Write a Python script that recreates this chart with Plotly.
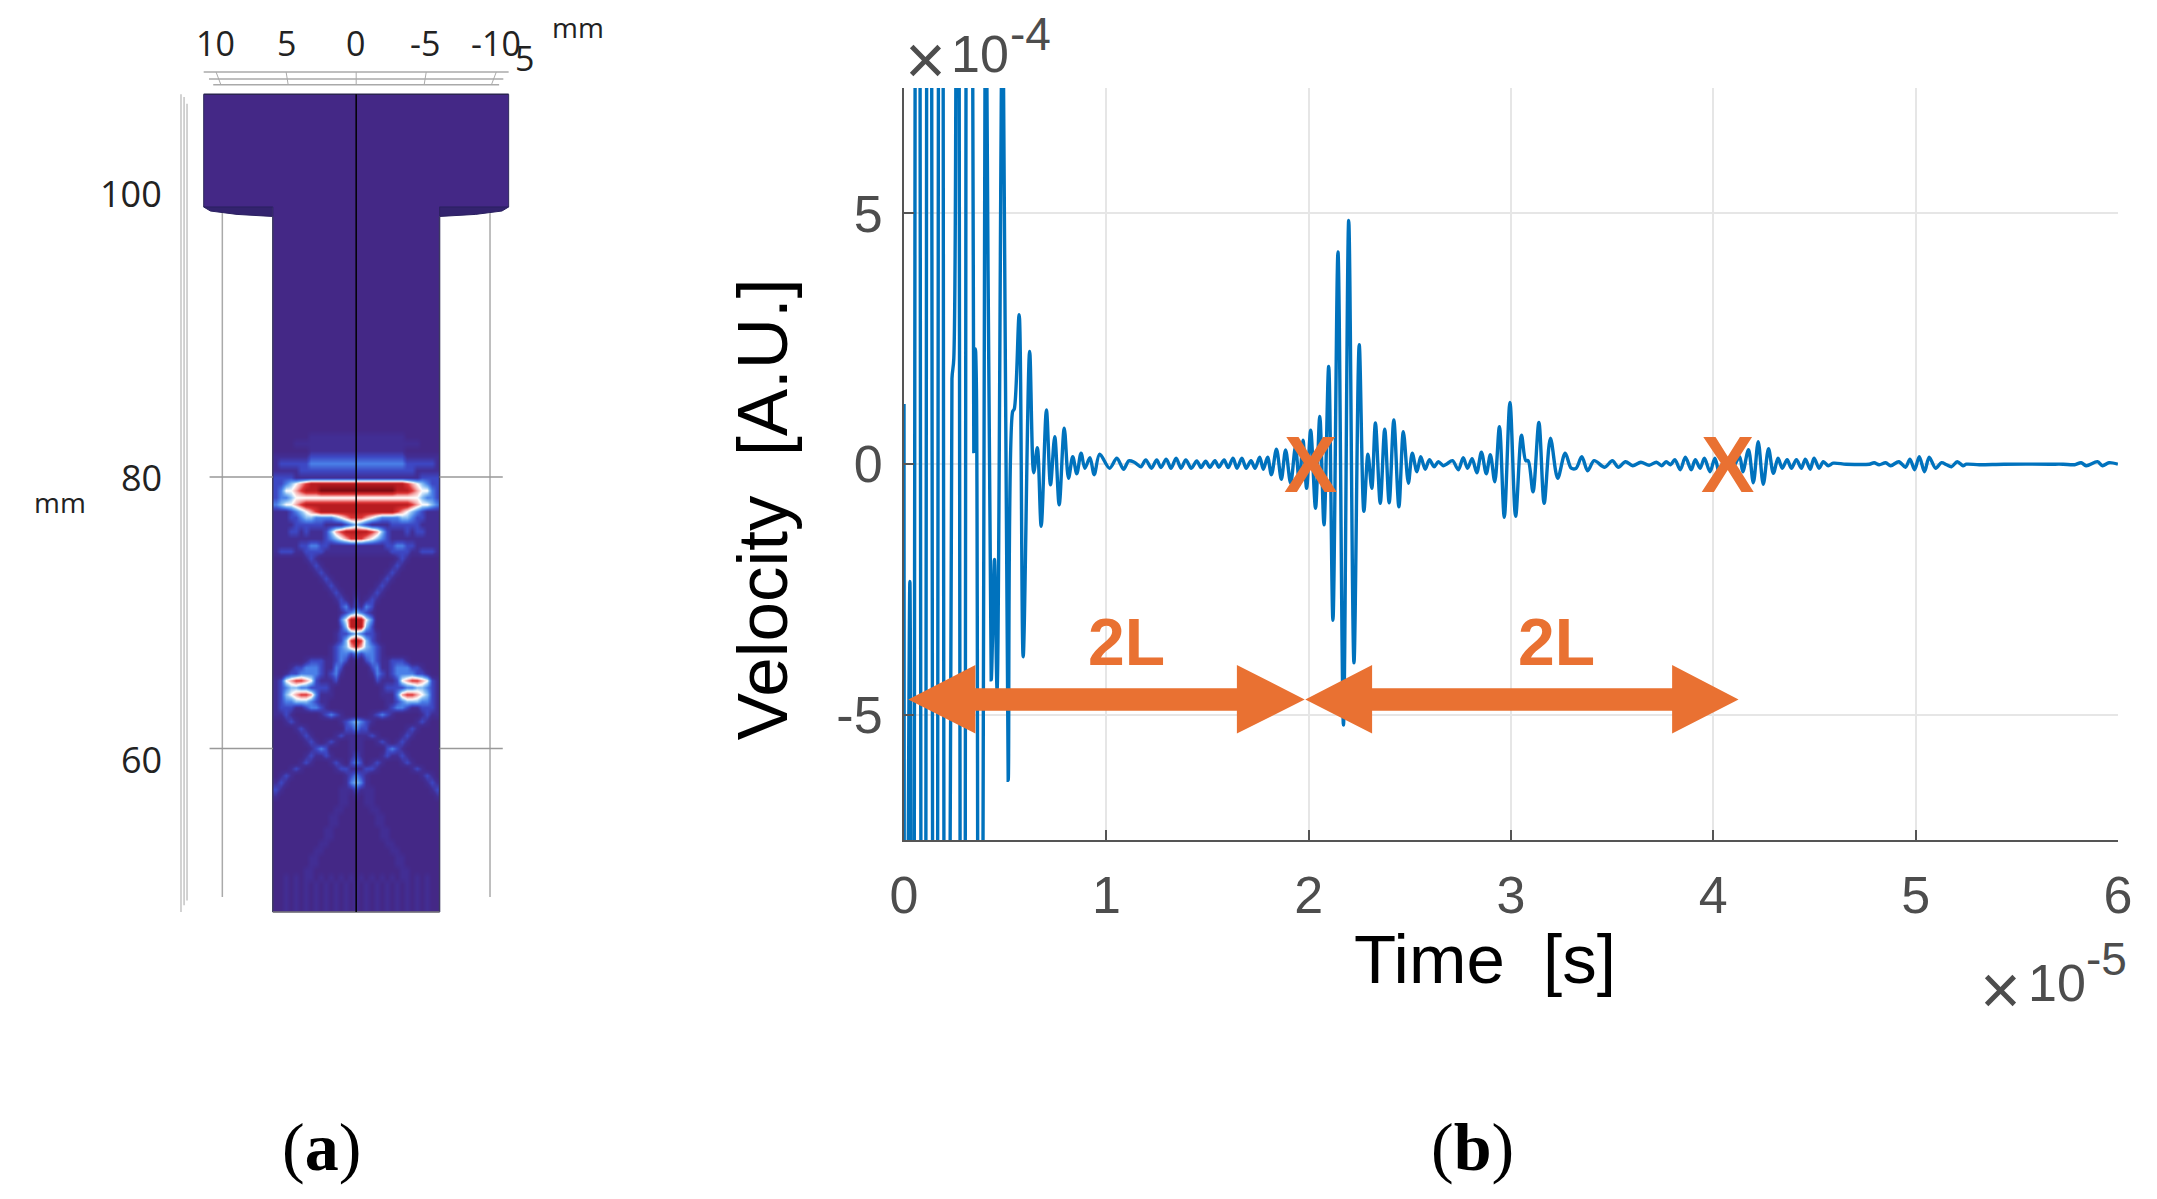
import plotly.graph_objects as go

W, H = 2157, 1199
PAGE_MARGIN = 8  # browser default body margin

# panel (b): velocity trace, time in 1e-5 s and velocity in 1e-4 A.U.
T_DIRECT = [0.000, .0065, .029, .042, .067, .096, .124, .154, .182, .210, .237, .246, .260, .291, .319, .345, .353, .358,
            .374, .403, .431, .447, .460, .488, .515, .537, .545, .569, .589, .621, .641, .659, .678, .704, .724, .745,
            .767, .792, .813, .834, .854, .875, .894, .919, .940]
V_DIRECT = [1.2, -20, -2.34, -30, 40, -40, 40, -40, 40, -40, 1.7, 2.1, 40, -40, 40, .25, 2.3, 1.5,
            -40, 12, -4.3, -1.9, -4.5, 10, -6.3, 1.05, 1.1, 2.98, -3.84, 2.25, -.17, .33, -1.24, 1.08, -.41, .55,
            -.81, .72, -.28, .15, -.19, .22, -.08, .13, -.21]

T_QUIET = [.967, 1.016, 1.052, 1.085, 1.111, 1.138, 1.171, 1.195, 1.223, 1.249, 1.270, 1.296, 1.320, 1.345, 1.369,
           1.393, 1.420, 1.447, 1.468, 1.491, 1.512, 1.537, 1.556, 1.582, 1.602, 1.626, 1.646, 1.670, 1.691, 1.715,
           1.735, 1.758, 1.776, 1.797, 1.816, 1.841, 1.865, 1.886, 1.911, 1.935, 1.954, 1.972, 1.990]
V_QUIET = [.20, -.08, .12, -.10, .066, .04, -.05, .086, -.08, .086, -.067, .10, -.08, .12, -.08,
           .086, -.08, .066, -.067, .06, -.06, .07, -.06, .086, -.067, .12, -.08, .12, -.08, .07,
           -.08, .14, -.10, .14, -.21, .30, -.30, .285, -.38, .35, -.41, .48, -.48]

T_ECHO_1 = [2.010, 2.034, 2.055, 2.076, 2.099, 2.120, 2.145, 2.172, 2.198, 2.224, 2.250, 2.273, 2.293, 2.312, 2.330,
            2.354, 2.376, 2.398, 2.421, 2.446, 2.468, 2.493, 2.512, 2.535, 2.554, 2.576, 2.597, 2.620, 2.641, 2.665]
V_ECHO_1 = [.68, -.88, .95, -1.21, 1.95, -3.11, 4.23, -5.2, 4.86, -3.96, 2.38, -.94, .20, -.48, .82,
            -.78, .70, -.77, .88, -.85, .65, -.38, .22, -.15, .15, -.10, .09, -.05, .05, -.03]

T_ECHO_2 = [2.683, 2.711, 2.740, 2.764, 2.785, 2.808, 2.831, 2.854, 2.878, 2.898, 2.920, 2.943, 2.967, 2.995, 3.023,
            3.052, 3.073, 3.085, 3.109, 3.138, 3.164, 3.195, 3.231, 3.268, 3.298, 3.322, 3.350, 3.379, 3.411, 3.463,
            3.501, 3.530, 3.566, 3.602, 3.642, 3.683, 3.719, 3.745, 3.767, 3.789, 3.810, 3.837, 3.862, 3.891, 3.911,
            3.935, 3.956, 3.984, 4.008]
V_ECHO_2 = [.006, .07, -.11, .13, -.08, .11, -.17, .24, -.19, .19, -.35, .75, -1.06, 1.23, -1.04,
            .58, .07, .07, -.55, .83, -.78, .52, -.28, .22, -.08, -.08, .15, -.13, .07, -.06,
            .07, -.06, .05, -.03, .04, -.02, .04, -.03, .05, -.01, .09, -.11, .14, -.11, .09,
            -.08, .12, -.15, .12]

T_ECHO_3 = [4.032, 4.057, 4.097, 4.130, 4.146, 4.174, 4.198, 4.222, 4.247, 4.273, 4.297, 4.320, 4.341, 4.365, 4.386,
            4.411, 4.435, 4.455, 4.479, 4.498, 4.523, 4.544, 4.568, 4.593, 4.657, 4.771, 4.795, 4.820, 4.852, 4.877,
            4.917, 4.950, 4.972, 4.995, 5.018, 5.044, 5.067, 5.099, 5.128, 5.153, 5.177, 5.206, 5.234, 5.250, 5.315,
            5.437, 5.664, 5.729, 5.786, 5.818, 5.843, 5.899, 5.924, 5.956, 6.000]
V_ECHO_3 = [-.21, .15, -.05, .15, -.15, .29, -.37, .45, -.40, .31, -.18, .12, -.08, .09, -.08,
            .09, -.08, .10, -.10, .12, -.08, .05, -.03, .02, 0, 0, .03, -.01, .03, -.03,
            .05, -.06, .10, -.11, .15, -.15, .14, -.08, .03, -.01, -.05, .05, -.03, 0, -.01,
            0, 0, 0, -.01, .03, -.03, .05, -.03, .03, 0]

X_TICKS = [0, 1, 2, 3, 4, 5, 6]
Y_TICKS = [-5, 0, 5]
Y_TICK_TEXT = ["-5", "0", "5"]

# panel (a): half of the rod, one row per 0.5 mm from z=84 down, levels 0-9, centre column first
FIELD_ROWS = [
    "00000000000000000", "00000000000000000", "11111111110000000", "11111111111110000",
    "11111111110000000", "22222222221111111", "33333333332222221", "22222222222211111",
    "11111111111112222", "88888888887654322", "99999999888765532", "55555555555554332",
    "88888888888765543", "88888888765432111", "77654333344322111", "43211112222221111",
    "88876421112122111", "77654321111111111", "11111122332211111", "11111112222112221",
    "00000000121000000", "00000001210000000", "00000012100000000", "00000121000000000",
    "00001210000000000", "10012100000000000", "20121000000000000", "21320000000000000",
    "43210000000000000", "88530000000000000", "88420000000000000", "43221000000000000",
    "87421000000000000", "76432100000000000", "32332100000000000", "10232112221000000",
    "00023112333221000", "00013212333322100", "00002111256776521", "00000122223344321",
    "00000111367765421", "00000011234443321", "00000012332112221", "00012321000001211",
    "43210000000012100", "32200000001210000", "11121000012100000", "11001210121000000",
    "11000023210000000", "21000121121000000", "32012100012100000", "11221000000121000",
    "32100000000001210", "43100000000000121", "21110000000000012", "10110000000000001",
    "00110000000000000", "00011000000000000", "00001100000000000", "00001100000000000",
    "00000110000000000", "00000110000000000", "00000011000000000", "00000001100000000",
    "00000000110000000", "00000000110000000", "00000000011000000", "01010101011010100",
    "10101010101010100", "10101010101010100", "10101010101010100", "10101010101010100",
    "10101010101010100",
]
FIELD_COLORS = ["#442886", "#422e94", "#3d48c4", "#4a80e8", "#86bdf3", "#ffffff", "#f5a5a5", "#dd3535", "#b81c20", "#7d0b12"]

ROD_HALF = 5.95
CAP_HALF = 10.88
CAP_TOP = 108.2
CAP_BOTTOM = 99.9
ROD_BOTTOM = 47.95
FIELD_TOP = 84.0

BLUE = "#0072BD"
ORANGE = "#E97132"
GREY_TEXT = "#4d4d4d"
BG_ROD = FIELD_COLORS[0]
FRAME = "#aaaaaa"

# pixel frames of the two panels
B_LEFT, B_RIGHT, B_TOP, B_BOTTOM = 901.7, 2131.7, 88, 840.4
A_LEFT, A_RIGHT, A_TOP, A_BOTTOM = 150, 530, 60, 930
A_CX, A_Z80, A_XS, A_ZS = 346.6, 477, 14.2, 13.57

FIG_W = W - 2 * PAGE_MARGIN
FIG_H = H - 2 * PAGE_MARGIN


def fx(px):
    return (px - PAGE_MARGIN) / FIG_W


def fy(py):
    return 1 - (py - PAGE_MARGIN) / FIG_H


half_w = 2 * ROD_HALF / 33
cols = [c * half_w for c in range(17)]
field_x = [-v for v in cols[:0:-1]] + cols
field_z = [84 - 0.5 * i for i in range(len(FIELD_ROWS) - 1)] + [48.1]
field = []
for row in FIELD_ROWS:
    vals = [int(ch) for ch in row]
    field.append(vals[:0:-1] + vals)

fig = go.Figure()

# rod and cap
fig.add_trace(go.Heatmap(
    x=field_x, y=field_z, z=field, zmin=0, zmax=9, zsmooth="best", showscale=False, hoverinfo="skip",
    colorscale=[[i / 9, c] for i, c in enumerate(FIELD_COLORS)], xaxis="x", yaxis="y",
))
fig.add_trace(go.Scatter(
    x=[ROD_HALF, ROD_HALF, CAP_HALF, CAP_HALF, -CAP_HALF, -CAP_HALF, -ROD_HALF, -ROD_HALF, ROD_HALF],
    y=[FIELD_TOP, CAP_BOTTOM, CAP_BOTTOM, CAP_TOP, CAP_TOP, CAP_BOTTOM, CAP_BOTTOM, FIELD_TOP, FIELD_TOP],
    mode="lines", fill="toself", fillcolor=BG_ROD, line=dict(width=0), xaxis="x", yaxis="y",
))
for side in (1, -1):
    fig.add_trace(go.Scatter(
        x=[side * v for v in (CAP_HALF, ROD_HALF, ROD_HALF, 8.5, 10.4, CAP_HALF)],
        y=[CAP_BOTTOM, CAP_BOTTOM, 99.2, 99.35, 99.6, CAP_BOTTOM],
        mode="lines", fill="toself", fillcolor="#33236e", line=dict(color="#2a2060", width=1), xaxis="x", yaxis="y",
    ))
    fig.add_trace(go.Scatter(
        x=[side * ROD_HALF] * 2, y=[ROD_BOTTOM, 99.2], mode="lines",
        line=dict(color="#3d3a62", width=1.5), xaxis="x", yaxis="y",
    ))
    fig.add_trace(go.Scatter(
        x=[side * CAP_HALF] * 2, y=[CAP_BOTTOM, CAP_TOP], mode="lines",
        line=dict(color="#2f2a5c", width=1), xaxis="x", yaxis="y",
    ))
    # side grid lines
    fig.add_trace(go.Scatter(
        x=[side * 9.55] * 2, y=[49.05, 99.45], mode="lines", line=dict(color=FRAME, width=1.5), xaxis="x", yaxis="y",
    ))
    for z in (80, 60):
        fig.add_trace(go.Scatter(
            x=[side * 10.46, side * ROD_HALF], y=[z, z], mode="lines", line=dict(color="#999999", width=1.5),
            xaxis="x", yaxis="y",
        ))
fig.add_trace(go.Scatter(
    x=[-CAP_HALF, CAP_HALF], y=[CAP_TOP, CAP_TOP], mode="lines", line=dict(color="#2a2450", width=1.5), xaxis="x", yaxis="y",
))
fig.add_trace(go.Scatter(
    x=[-ROD_HALF, ROD_HALF], y=[ROD_BOTTOM, ROD_BOTTOM], mode="lines", line=dict(color="#777777", width=1.5), xaxis="x", yaxis="y",
))
fig.add_trace(go.Scatter(
    x=[0, 0], y=[ROD_BOTTOM, CAP_TOP], mode="lines", line=dict(color="#000000", width=1.5), xaxis="x", yaxis="y",
))

# top frame above the cap
for z, half in ((109.85, 10.88), (109.33, 10.5), (108.9, 10.2)):
    fig.add_trace(go.Scatter(
        x=[-half, half], y=[z, z], mode="lines", line=dict(color=FRAME, width=1.5), xaxis="x", yaxis="y",
    ))
for top, bot in ((10, 9.65), (5, 4.85), (0, 0), (-5, -4.85), (-10, -9.65)):
    fig.add_trace(go.Scatter(
        x=[top, bot], y=[109.85, 108.9], mode="lines", line=dict(color=FRAME, width=1), xaxis="x", yaxis="y",
    ))
# left frame
for off, z_top, z_bot in ((12.5, 108.2, 47.95), (12.28, 108, 48.45), (12.07, 107.5, 48.8)):
    fig.add_trace(go.Scatter(
        x=[off, off], y=[z_bot, z_top], mode="lines", line=dict(color="#c4c4c4", width=1.5), xaxis="x", yaxis="y",
    ))

# panel b trace
time_vals = T_DIRECT + T_QUIET + T_ECHO_1 + T_ECHO_2 + T_ECHO_3
velo_vals = V_DIRECT + V_QUIET + V_ECHO_1 + V_ECHO_2 + V_ECHO_3
fig.add_trace(go.Scatter(
    x=time_vals, y=velo_vals, mode="lines", line=dict(color=BLUE, width=3.4, shape="spline", smoothing=0.9),
    xaxis="x2", yaxis="y2",
))

# arrows drawn over the plot
ARROW_Y = 699.5
def arrow_path(x0, b0, b1, x1):
    pts = [(x0, ARROW_Y), (b0, 665), (b0, 688.3), (b1, 688.3), (b1, 665), (x1, ARROW_Y),
           (b1, 733.5), (b1, 710.7), (b0, 710.7), (b0, 733.5)]
    return "M " + " L ".join(f"{fx(x):.5f},{fy(y):.5f}" for x, y in pts) + " Z"


shapes = [
    dict(type="path", path=arrow_path(906, 974, 1239, 1307.7), xref="paper", yref="paper",
         fillcolor=ORANGE, line=dict(width=0), layer="above"),
    dict(type="path", path=arrow_path(1308.3, 1376, 1680, 1747.3), xref="paper", yref="paper",
         fillcolor=ORANGE, line=dict(width=0), layer="above"),
]


def label(px, py, text, size, color, family="Liberation Sans", angle=0, anchor="center"):
    return dict(
        x=fx(px), y=fy(py), xref="paper", yref="paper", text=text, showarrow=False, textangle=angle,
        xanchor=anchor, yanchor="middle", font=dict(size=size, color=color, family=family),
    )


A_FONT = "Open Sans"
annotations = [
    label(204, 43, "10", 34, "#222222", A_FONT),
    label(275.5, 43, "5", 34, "#222222", A_FONT),
    label(346, 43, "0", 34, "#222222", A_FONT),
    label(416, 43, "-5", 34, "#222222", A_FONT),
    label(488, 43, "-10", 34, "#222222", A_FONT),
    label(517.5, 58, "5", 34, "#222222", A_FONT),
    label(571, 27, "mm", 28, "#222222", A_FONT),
    label(152, 194, "100", 36, "#222222", A_FONT, anchor="right"),
    label(152, 477, "80", 36, "#222222", A_FONT, anchor="right"),
    label(152, 759, "60", 36, "#222222", A_FONT, anchor="right"),
    label(46, 502, "mm", 28, "#222222", A_FONT),
    label(758, 509, "Velocity\u00a0\u00a0[A.U.]", 71, "#000000", angle=-90),
    label(1490, 959, "Time\u00a0\u00a0[s]", 69, "#000000"),
    label(923, 60, "\u00d7", 70, GREY_TEXT),
    label(979, 54, "10", 52, GREY_TEXT),
    label(1030, 34, "-4", 46, GREY_TEXT),
    label(2013, 990, "\u00d7", 70, GREY_TEXT),
    label(2070, 983, "10", 52, GREY_TEXT),
    label(2120, 959, "-5", 46, GREY_TEXT),
    label(1127, 642, "<b>2L</b>", 66, ORANGE),
    label(1563, 642, "<b>2L</b>", 66, ORANGE),
    label(1314, 465, "<b>X</b>", 80, ORANGE),
    label(1736, 465, "<b>X</b>", 80, ORANGE),
    label(311, 1147, "(<b>a</b>)", 68, "#000000", "Liberation Serif"),
    label(1478, 1147, "(<b>b</b>)", 68, "#000000", "Liberation Serif"),
]

fig.update_layout(
    width=FIG_W, height=FIG_H, margin=dict(l=0, r=0, t=0, b=0), autosize=False,
    paper_bgcolor="white", plot_bgcolor="white", showlegend=False,
    shapes=shapes, annotations=annotations,
    font=dict(family="Liberation Sans"),
    xaxis=dict(
        domain=[fx(A_LEFT), fx(A_RIGHT)], visible=False,
        range=[(A_CX - A_LEFT) / A_XS, (A_CX - A_RIGHT) / A_XS],
    ),
    yaxis=dict(
        domain=[fy(A_BOTTOM), fy(A_TOP)], visible=False,
        range=[80 + (A_Z80 - A_BOTTOM) / A_ZS, 80 + (A_Z80 - A_TOP) / A_ZS],
    ),
    xaxis2=dict(
        domain=[fx(B_LEFT), fx(B_RIGHT)], range=[0, 6], anchor="y2",
        tickmode="array", tickvals=X_TICKS, ticks="inside", ticklen=10, tickcolor="#555555", tickwidth=1.5,
        showline=True, linecolor="#555555", linewidth=2, showgrid=True, gridcolor="#e6e6e6", gridwidth=2, zeroline=False,
        tickfont=dict(size=52, color=GREY_TEXT), ticklabelstandoff=8,
    ),
    yaxis2=dict(
        domain=[fy(B_BOTTOM), fy(B_TOP)], range=[-7.5, 7.5], anchor="x2",
        tickmode="array", tickvals=Y_TICKS, ticktext=Y_TICK_TEXT, ticks="inside", ticklen=10, tickcolor="#555555", tickwidth=1.5,
        showline=True, linecolor="#555555", linewidth=2, showgrid=True, gridcolor="#e6e6e6", gridwidth=2, zeroline=False,
        tickfont=dict(size=52, color=GREY_TEXT), ticklabelstandoff=9,
    ),
)

fig.write_html("out.html")
